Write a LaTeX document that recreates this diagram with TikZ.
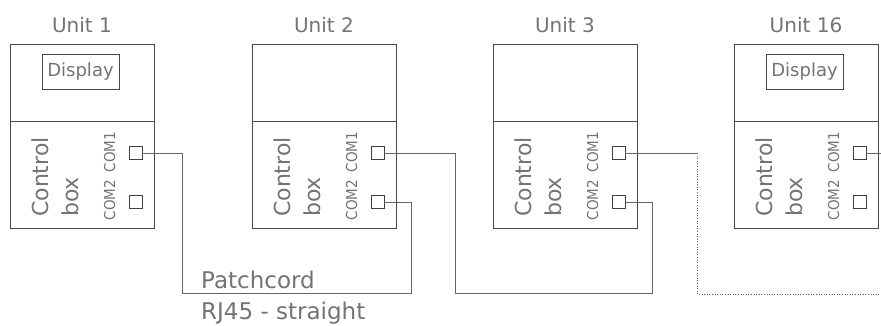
\documentclass[tikz,border=0pt]{standalone}
\usepackage{fontspec}
\setmainfont{DejaVu Sans}
\newfontfamily\condfont{DejaVu Sans Condensed}
\usepackage{tikz}
\usetikzlibrary{positioning, calc}

\begin{document}
\begin{tikzpicture}[
    x=1pt, y=-1pt,
    upper/.style={rectangle, draw=black!72, line width=0.8pt, minimum width=144pt, minimum height=77pt, inner sep=0pt, outer sep=0pt},
    lower/.style={rectangle, draw=black!72, line width=0.8pt, minimum width=144pt, minimum height=107pt, inner sep=0pt, outer sep=0pt},
    disp/.style={rectangle, draw=black!72, line width=0.7pt, minimum width=77pt, minimum height=35pt, inner sep=0pt, text=black!55, font=\fontsize{18}{21}\selectfont},
    port/.style={rectangle, draw=black!75, line width=0.7pt, minimum size=12.5pt, inner sep=0pt, outer sep=0pt},
    title/.style={anchor=base, inner sep=0pt, text=black!55, font=\fontsize{20}{24}\selectfont},
    lbl/.style={inner sep=0pt, text=black!55, font=\fontsize{22}{26}\selectfont},
    com/.style={rotate=90, anchor=base, inner sep=0pt, text=black!55, font=\condfont\fontsize{15}{18}\selectfont},
    wire/.style={draw=black!60, line width=0.6pt}
]
\useasboundingbox (0,0) rectangle (881,326);

% Unit 1
\node[upper] (top1) at (82,82.5) {};
\node[lower, below=0pt of top1] (box1) {};
\node[title] (name1) at ([yshift=11pt]top1.north) {Unit 1};
\node[disp, below=10pt of top1.north, xshift=-1.5pt] (disp1) {Display};
\node[lbl, rotate=90, anchor=base west] (ctl1) at ($(box1.south west)+(38,-11)$) {Control};
\node[lbl, rotate=90, anchor=base west] (bx1) at ($(box1.south west)+(68,-11)$) {box};
\node[port] (c1a) at ($(box1.north west)+(126,32)$) {};
\node[port] (c1b) at ($(box1.north west)+(126,81)$) {};
\node[com] (l1a) at ($(c1a)+(-21,-1)$) {COM1};
\node[com] (l1b) at ($(c1b)+(-21,-2)$) {COM2};

% Unit 2
\node[upper] (top2) at (324,82.5) {};
\node[lower, below=0pt of top2] (box2) {};
\node[title] (name2) at ([yshift=11pt]top2.north) {Unit 2};
\node[lbl, rotate=90, anchor=base west] (ctl2) at ($(box2.south west)+(38,-11)$) {Control};
\node[lbl, rotate=90, anchor=base west] (bx2) at ($(box2.south west)+(68,-11)$) {box};
\node[port] (c2a) at ($(box2.north west)+(126,32)$) {};
\node[port] (c2b) at ($(box2.north west)+(126,81)$) {};
\node[com] (l2a) at ($(c2a)+(-21,-1)$) {COM1};
\node[com] (l2b) at ($(c2b)+(-21,-2)$) {COM2};

% Unit 3
\node[upper] (top3) at (565,82.5) {};
\node[lower, below=0pt of top3] (box3) {};
\node[title] (name3) at ([yshift=11pt]top3.north) {Unit 3};
\node[lbl, rotate=90, anchor=base west] (ctl3) at ($(box3.south west)+(38,-11)$) {Control};
\node[lbl, rotate=90, anchor=base west] (bx3) at ($(box3.south west)+(68,-11)$) {box};
\node[port] (c3a) at ($(box3.north west)+(126,32)$) {};
\node[port] (c3b) at ($(box3.north west)+(126,81)$) {};
\node[com] (l3a) at ($(c3a)+(-21,-1)$) {COM1};
\node[com] (l3b) at ($(c3b)+(-21,-2)$) {COM2};

% Unit 16
\node[upper] (top16) at (806,82.5) {};
\node[lower, below=0pt of top16] (box16) {};
\node[title] (name16) at ([yshift=11pt]top16.north) {Unit 16};
\node[disp, below=10pt of top16.north, xshift=-1.5pt] (disp16) {Display};
\node[lbl, rotate=90, anchor=base west] (ctl16) at ($(box16.south west)+(38,-11)$) {Control};
\node[lbl, rotate=90, anchor=base west] (bx16) at ($(box16.south west)+(68,-11)$) {box};
\node[port] (c16a) at ($(box16.north west)+(126,32)$) {};
\node[port] (c16b) at ($(box16.north west)+(126,81)$) {};
\node[com] (l16a) at ($(c16a)+(-21,-1)$) {COM1};
\node[com] (l16b) at ($(c16b)+(-21,-2)$) {COM2};

% Patchcord labels
\node[lbl, anchor=base west, font=\fontsize{23}{27}\selectfont] (cord) at (201,288) {Patchcord};
\node[lbl, anchor=base west, font=\fontsize{23}{27}\selectfont] (rj) at (201,319) {RJ45 - straight};

% Wires
\coordinate (low1) at (182,293);
\coordinate (low2) at (455,293);
\coordinate (low3) at (697,294);
\coordinate (edge3) at (881,294);
\coordinate (edge16) at (881,153);

\draw[wire] (c1a.east) -| (low1) -| ([xshift=27pt]c2b.east) -- (c2b.east);
\draw[wire] (c2a.east) -| (low2) -| ([xshift=27pt]c3b.east) -- (c3b.east);
\draw[wire] (c3a.east) -- (c3a.east -| low3);
\draw[wire, dotted] (c3a.east -| low3) -- (low3) -- (edge3);
\draw[wire] (c16a.east) -- (edge16);

\end{tikzpicture}
\end{document}
